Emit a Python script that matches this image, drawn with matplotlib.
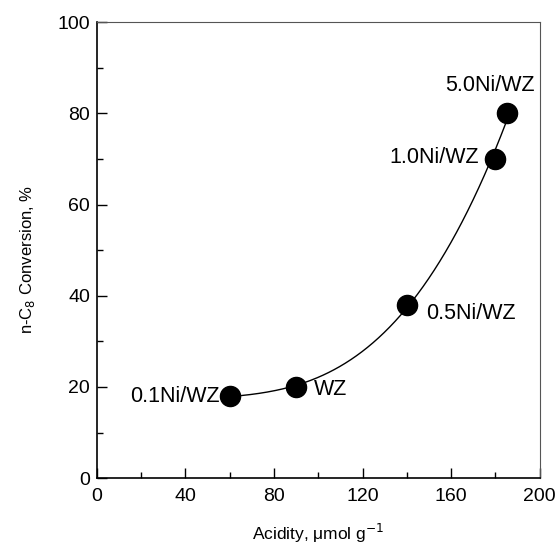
import numpy as np
import matplotlib
matplotlib.use("Agg")
import matplotlib.pyplot as plt
from matplotlib.ticker import MultipleLocator

plt.rcParams['font.family'] = ['Liberation Sans', 'DejaVu Sans']

acidity = [60, 90, 140, 180, 185]
conversion = [18, 20, 38, 70, 80]
labels = ["0.1Ni/WZ", "WZ", "0.5Ni/WZ", "1.0Ni/WZ", "5.0Ni/WZ"]

fig = plt.figure(figsize=(5.57, 5.54), dpi=100)
ax = fig.add_axes([0.174, 0.137, 0.795, 0.823])

# fitted curve through points
coef = np.polyfit(acidity, conversion, 3)
xs = np.linspace(min(acidity), max(acidity), 200)
ax.plot(xs, np.polyval(coef, xs), color='black', lw=1.0, zorder=2)
ax.scatter(acidity, conversion, s=210, color='black', zorder=3)

offsets = [(-7, 0, 'right', 'center'),
           (13, -2, 'left', 'center'),
           (14, -6, 'left', 'center'),
           (-12, 1, 'right', 'center'),
           (-12, 20, 'center', 'center')]
for x, y, lab, (dx, dy, ha, va) in zip(acidity, conversion, labels, offsets):
    ax.annotate(lab, (x, y), xytext=(dx, dy), textcoords='offset points',
                ha=ha, va=va, fontsize=15.5)

ax.set_xlim(0, 200)
ax.set_ylim(0, 100)
ax.xaxis.set_major_locator(MultipleLocator(40))
ax.xaxis.set_minor_locator(MultipleLocator(20))
ax.yaxis.set_major_locator(MultipleLocator(20))
ax.yaxis.set_minor_locator(MultipleLocator(10))
ax.tick_params(which='both', direction='in', top=False, right=False, labelsize=14)
ax.tick_params(which='major', length=7, width=1)
ax.tick_params(which='minor', length=4, width=1)
ax.tick_params(axis='x', pad=7)
ax.tick_params(axis='y', pad=5)
for s in ['top', 'right']:
    ax.spines[s].set_color('#555555')
for s in ['left', 'bottom']:
    ax.spines[s].set_linewidth(1.2)

ax.set_xlabel("Acidity, μmol g$^{-1}$", fontsize=12.5, labelpad=12)
ax.set_ylabel("n-C$_8$ Conversion, %", fontsize=12)
ax.yaxis.set_label_coords(-0.135, 0.48)

fig.savefig("out.png", dpi=100)
